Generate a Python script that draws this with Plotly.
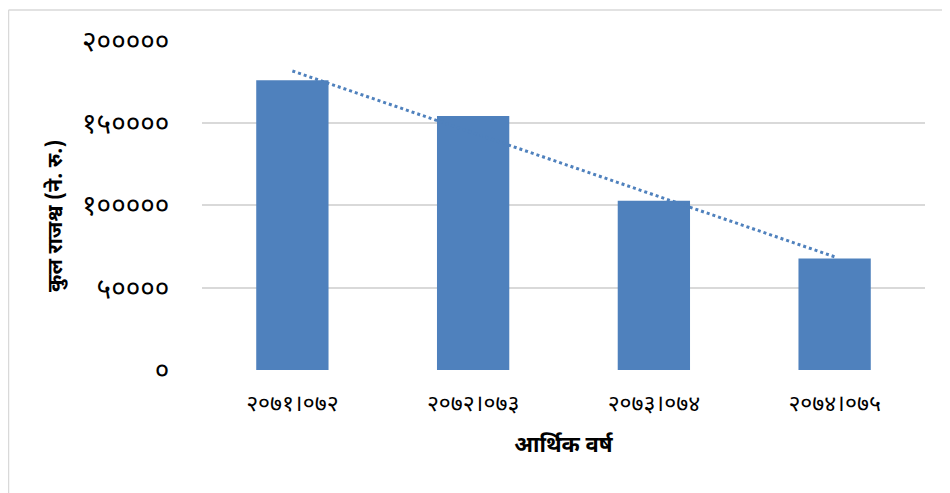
import numpy as np
import plotly.graph_objects as go

categories = ["२०७१।०७२", "२०७२।०७३", "२०७३।०७४", "२०७४।०७५"]
revenue = [176150, 154360, 102900, 67800]
y_tick_vals = [0, 50000, 100000, 150000, 200000]
y_tick_text = ["०", "५००००", "१०००००", "१५००००", "२०००००"]

idx = np.arange(1, len(revenue) + 1)
slope, intercept = np.polyfit(idx, revenue, 1)
trend = list(slope * idx + intercept)

BLUE = "#4F81BD"
FONT = "Noto Sans Devanagari, Noto Sans, DejaVu Sans, sans-serif"

fig = go.Figure()
fig.add_trace(go.Bar(x=categories, y=revenue, marker=dict(color=BLUE, line=dict(width=0)),
                     showlegend=False))
fig.add_trace(go.Scatter(x=categories, y=trend, mode="lines",
                         line=dict(color=BLUE, width=3, dash="dot"), showlegend=False))

# page has an 8px body margin; figure coordinates = page coordinates - 8
W, H = 950, 493
ml, mr, mt, mb = 194, 33, 32, 131
pw = W - ml - mr
ph = H - mt - mb

def px_x(p):
    return (p - ml) / pw

def px_y(p):
    return (H - mb - p) / ph

fig.update_layout(
    width=W, height=H,
    margin=dict(l=ml, r=mr, t=mt, b=mb),
    paper_bgcolor="white", plot_bgcolor="white",
    bargap=0.6,
    font=dict(family=FONT, color="#000000"),
    shapes=[
        dict(type="line", xref="paper", yref="paper",
             x0=px_x(0.5), x1=px_x(W), y0=px_y(2), y1=px_y(2),
             line=dict(color="#D9D9D9", width=1.5), layer="below"),
        dict(type="line", xref="paper", yref="paper",
             x0=px_x(0.5), x1=px_x(0.5), y0=px_y(2), y1=px_y(H),
             line=dict(color="#D9D9D9", width=1.5), layer="below"),
    ],
    annotations=[
        dict(text="<b>कुल राजश्व (ने. रु.)</b>", xref="paper", yref="paper",
             x=px_x(49), y=px_y(208), xanchor="center", yanchor="middle",
             textangle=-90, showarrow=False,
             font=dict(size=21, family=FONT, color="#000")),
    ],
)
fig.update_xaxes(
    showgrid=False, zeroline=False, showline=False,
    tickfont=dict(size=23, family=FONT, color="#000"),
    title=dict(text="<b>आर्थिक वर्ष</b>", font=dict(size=22, family=FONT, color="#000"), standoff=18),
    ticks="outside", ticklen=12, tickcolor="rgba(0,0,0,0)",
)
fig.update_yaxes(
    range=[0, 200600], tickvals=y_tick_vals, ticktext=y_tick_text,
    showgrid=True, gridcolor="#D9D9D9", gridwidth=1.5,
    zeroline=False, showline=False,
    tickfont=dict(size=28, family=FONT, color="#000"),
    ticks="outside", ticklen=26, tickcolor="rgba(0,0,0,0)",
)

fig.write_html("out.html")
